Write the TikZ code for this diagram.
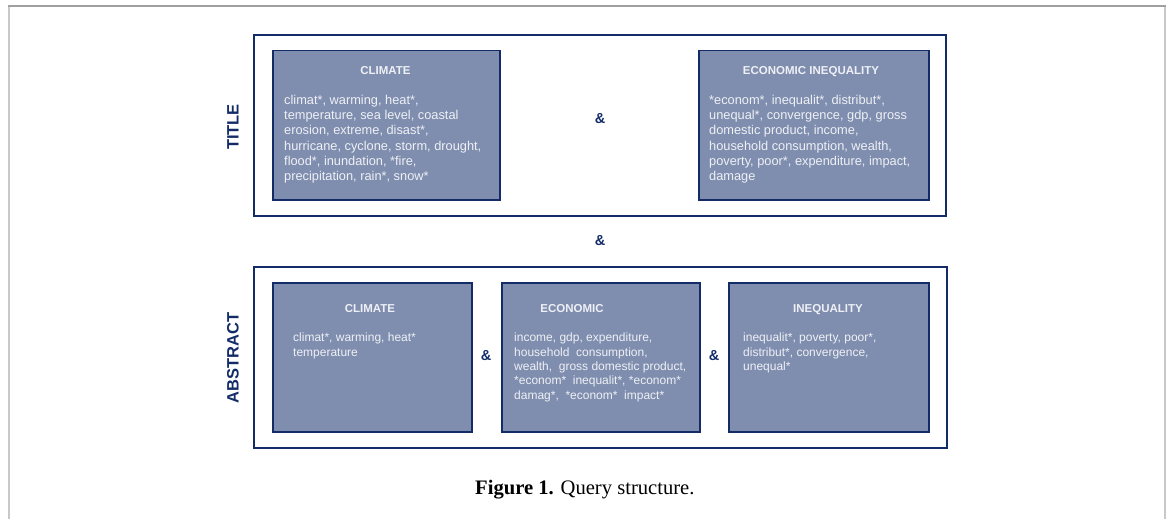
\documentclass[tikz,border=0pt]{standalone}
\usepackage{fontspec}
\setmainfont{Liberation Serif}
\newfontfamily\arialf{Liberation Sans}
\definecolor{navy}{HTML}{132C68}
\definecolor{boxfill}{HTML}{7F8EAF}
\definecolor{boxtext}{HTML}{EEF0F5}
\definecolor{frameA}{HTML}{A0A0A0}
\definecolor{frameB}{HTML}{C8C8C8}
\tikzset{
  outerbox/.style={draw=navy, line width=1.8pt, minimum width=#1, anchor=north west, inner sep=0pt},
  catbox/.style={draw=navy, fill=boxfill, line width=1.5pt, anchor=north west, inner sep=0pt},
  heading/.style={font=\arialf\bfseries\fontsize{11.5}{13}\selectfont, text=boxtext, anchor=base, inner sep=0pt},
  bodyT/.style={font=\arialf\fontsize{12.8}{15.2}\selectfont, text=boxtext, anchor=north west, align=left, inner sep=0pt},
  bodyA/.style={font=\arialf\fontsize{12}{14.3}\selectfont, text=boxtext, anchor=north west, align=left, inner sep=0pt},
  amp/.style={font=\arialf\bfseries\fontsize{14.5}{16}\selectfont, text=navy, inner sep=0pt},
  sidelabel/.style={font=\arialf\bfseries\fontsize{16.5}{18}\selectfont, text=navy, rotate=90, inner sep=0pt},
}
\begin{document}
\begin{tikzpicture}[x=1pt,y=-1pt]
\useasboundingbox (0,0) rectangle (1168,519);
% frame
\draw[frameB, line width=2pt] (9,6) -- (9,519);
\draw[frameB, line width=2pt] (1165,6) -- (1165,519);
\draw[frameA, line width=1.5pt] (8,6) -- (1166,6);

% TITLE block
\node[outerbox=692, minimum height=181] (tout) at (253,34) {};
\node[catbox, minimum width=227, minimum height=149] (tclim) at (272,50) {};
\node[catbox, minimum width=230, minimum height=149] (tecon) at (698,50) {};
\node[heading] (tclimh) at (385.5,75) {CLIMATE};
\node[heading] (teconh) at (811,75) {ECONOMIC INEQUALITY};
\node[bodyT] (tclimb) at (284,95) {climat*, warming, heat*,\\temperature, sea level, coastal\\erosion, extreme, disast*,\\hurricane, cyclone, storm, drought,\\flood*, inundation, *fire,\\precipitation, rain*, snow*};
\node[bodyT] (teconb) at (709,95) {*econom*, inequalit*, distribut*,\\unequal*, convergence, gdp, gross\\domestic product, income,\\household consumption, wealth,\\poverty, poor*, expenditure, impact,\\damage};
\node[amp] (tamp) at (600,119) {\&};
\node[sidelabel] (tlab) at (233,127) {TITLE};

\node[amp] (midamp) at (600,241) {\&};

% ABSTRACT block
\node[outerbox=693, minimum height=181] (aout) at (253,266) {};
\node[catbox, minimum width=199, minimum height=149] (aclim) at (272,282) {};
\node[catbox, minimum width=198, minimum height=149] (aecon) at (501,282) {};
\node[catbox, minimum width=200, minimum height=149] (aineq) at (728,282) {};
\node[heading] (aclimh) at (370,312) {CLIMATE};
\node[heading] (aeconh) at (572,312) {ECONOMIC};
\node[heading] (aineqh) at (828,312) {INEQUALITY};
\node[bodyA] (aclimb) at (293,333) {climat*, warming, heat*\\temperature};
\node[bodyA] (aeconb) at (514,333) {income, gdp, expenditure,\\household\ \ consumption,\\wealth,\ \ gross domestic product,\\*econom*\ \ inequalit*, *econom*\\damag*,\ \ *econom*\ \ impact*};
\node[bodyA] (aineqb) at (743,333) {inequalit*, poverty, poor*,\\distribut*, convergence,\\unequal*};
\node[amp] (aamp1) at (486,356) {\&};
\node[amp] (aamp2) at (714,356) {\&};
\node[sidelabel] (alab) at (233,358) {ABSTRACT};

% caption
\node[anchor=base west, inner sep=0pt, font=\fontsize{20.6}{24}\selectfont] (cap) at (475,494) {\textbf{Figure 1.} Query structure.};
\end{tikzpicture}
\end{document}
